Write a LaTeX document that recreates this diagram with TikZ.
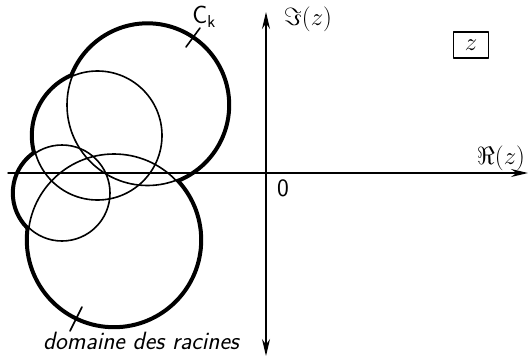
\documentclass[tikz,border=0pt]{standalone}
\usetikzlibrary{positioning,arrows.meta}

\tikzset{
  rim/.style={line width=6.4pt},
  disc/.style={line width=1.6pt},
  axis/.style={line width=1.5pt},
  lbl/.style={font=\fontsize{25}{30}\selectfont\sffamily, inner sep=1pt},
  mlbl/.style={font=\fontsize{29}{34}\selectfont, inner sep=0pt},
}

\begin{document}
\begin{tikzpicture}[
    x=1pt,y=-1pt,>={Stealth[length=17pt,width=8pt]},
    line cap=round,
    line join=round,
]
\useasboundingbox (0,0) rectangle (531,360);
% circles: centre x / centre y / radius
\def\discs{147.5/105/80.5, 97.5/135.5/64.5, 62/193/48, 114/240/86}
% outer rim of the domain
\foreach \cx/\cy/\r in \discs
  \draw[rim] (\cx,\cy) circle[radius=\r pt];
\foreach \cx/\cy/\r in \discs
  \fill[white] (\cx,\cy) circle[radius=\r pt];
% the circles themselves
\foreach \cx/\cy/\r in \discs
  \draw[disc] (\cx,\cy) circle[radius=\r pt];
% axes
\coordinate (rl) at (8,173);
\coordinate (rr) at (528,173);
\coordinate (ib) at (266,356);
\coordinate (it) at (266,12);
\draw[axis,->] (rl) -- (rr);
\draw[axis,<->] (ib) -- (it);
% labels
\node[mlbl] (im) at (308,19) {$\Im(z)$};
\node[mlbl] (re) at (501,158) {$\Re(z)$};
\node[lbl] (o) at (283,188) {0};
\node[mlbl,draw,line width=1.3pt,minimum width=35pt,minimum height=26pt] (zbox) at (471,45) {$z$};
\node[lbl] (ck) at (204,17) {C$_{\mathsf{k}}$};
\node[lbl,font=\fontsize{25}{30}\selectfont\sffamily\itshape] (dom) at (141,341) {domaine des racines};
% leaders
\coordinate (cktop) at (200,28);
\coordinate (ckend) at (186,47);
\coordinate (domlow) at (70,331);
\coordinate (domend) at (82,307);
\draw[disc] (cktop) -- (ckend);
\draw[disc] (domlow) -- (domend);
\end{tikzpicture}
\end{document}
